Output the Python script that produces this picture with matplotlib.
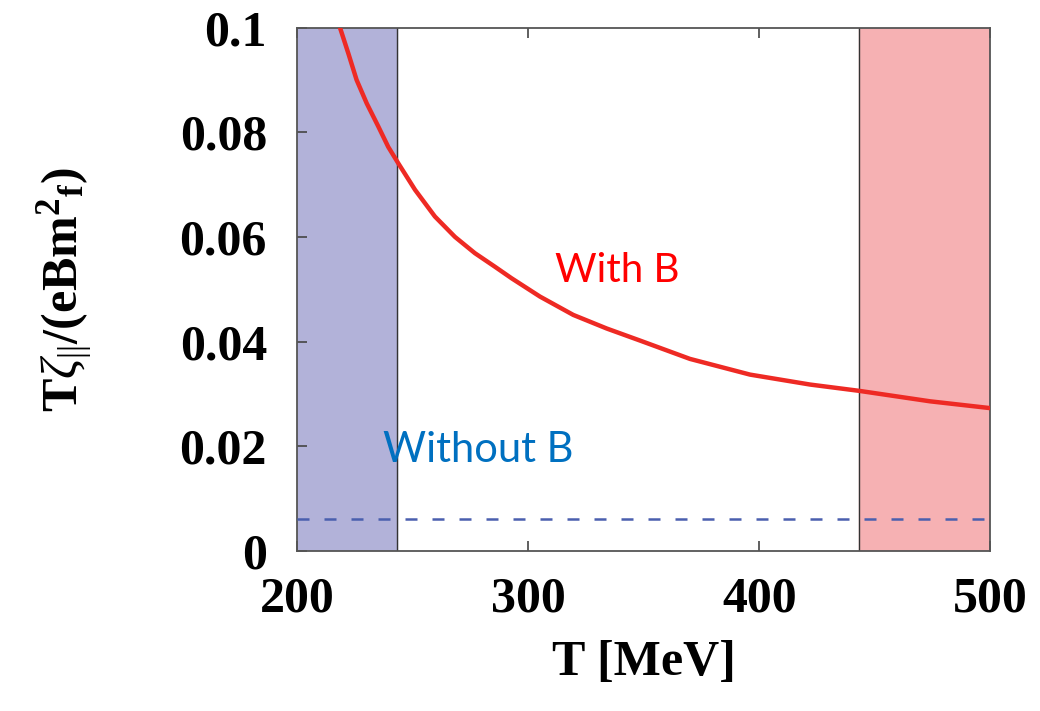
import matplotlib.pyplot as plt
import matplotlib as mpl

# values
T_withB = [218.4, 222.0, 225.6, 230.0, 235.0, 239.3, 243.6, 250.9, 259.5, 268.2,
           276.8, 285.5, 292.7, 305.0, 319.4, 333.9, 348.3, 369.9, 395.9, 421.9,
           443.1, 473.8, 499.8]
zeta_withB = [0.1000, 0.0951, 0.0900, 0.0855, 0.0811, 0.0772, 0.0741, 0.0690, 0.0639, 0.0600,
              0.0569, 0.0543, 0.0521, 0.0486, 0.0451, 0.0425, 0.0402, 0.0367, 0.0337, 0.0318,
              0.0306, 0.0286, 0.0273]
T_withoutB = [200, 497]
zeta_withoutB = [0.0062, 0.0062]
band_low = (200, 243)
band_high = (443, 500)
xticks = [200, 300, 400, 500]
yticks = [0, 0.02, 0.04, 0.06, 0.08, 0.1]
yticklabels = ['0', '0.02', '0.04', '0.06', '0.08', '0.1']

mpl.rcParams['mathtext.fontset'] = 'custom'
mpl.rcParams['mathtext.rm'] = 'Liberation Serif'
mpl.rcParams['mathtext.it'] = 'Liberation Serif:italic'
mpl.rcParams['mathtext.bf'] = 'Liberation Serif:bold'

fig = plt.figure(figsize=(10.4, 7.11), dpi=100)
ax = fig.add_axes([0.286, 0.225, 0.6664, 0.7363])

ax.axvspan(*band_low, color='#b2b2d9', zorder=0)
ax.axvspan(*band_high, color='#f6b1b3', zorder=0)
ax.axvline(band_low[1], color='#333333', lw=1.0, zorder=1)
ax.axvline(band_high[0], color='#333333', lw=1.0, zorder=1)

ax.plot(T_withB, zeta_withB, color='#ee2a24', lw=3.2, zorder=3,
        solid_joinstyle='round')
line, = ax.plot(T_withoutB, zeta_withoutB, color='#4a5fae', lw=1.8, zorder=3)
line.set_dashes((4.8, 6.0))

ax.text(311.5, 0.0514, 'With B', color='#ff0000', fontsize=29, family='Lato')
ax.text(237, 0.0170, 'Without B', color='#0070c0', fontsize=30, family='Lato')

ax.set_xlim(200, 500)
ax.set_ylim(0, 0.1)
ax.set_xticks(xticks)
ax.set_yticks(yticks)
ax.set_yticklabels(yticklabels)
ax.tick_params(direction='in', length=7, width=1.2, color='#444444',
               top=True, right=False, labelsize=36)
ax.tick_params(axis='y', pad=22)
ax.tick_params(axis='x', pad=18)
for lab in ax.get_xticklabels() + ax.get_yticklabels():
    lab.set_family('Liberation Serif')
    lab.set_fontweight('bold')
for s in ax.spines.values():
    s.set_color('#555555')
    s.set_linewidth(1.3)

ax.set_xlabel('T [MeV]', family='Liberation Serif', fontweight='bold',
              fontsize=36, labelpad=13)
ax.set_ylabel(r'$\mathbf{T}\zeta_{||}\mathbf{/(eBm}^{\mathbf{2}}{}_{\mathbf{f}}\mathbf{)}$',
              fontsize=36, labelpad=60)

fig.savefig('out.png', dpi=100)
